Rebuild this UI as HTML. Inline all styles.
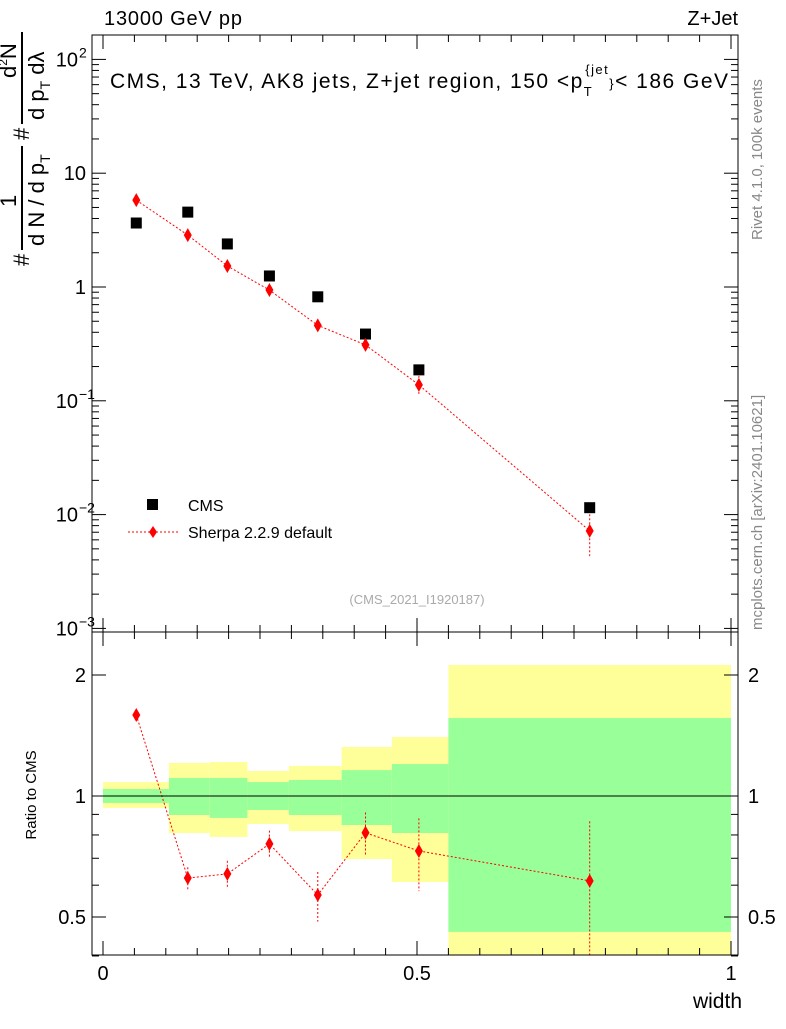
<!DOCTYPE html>
<html><head><meta charset="utf-8"><style>
body{margin:0;background:#fff;font-family:"Liberation Sans",sans-serif}
</style></head><body>
<svg width="786" height="1024" xmlns="http://www.w3.org/2000/svg" font-family="Liberation Sans, sans-serif">
<g id="bands"></g>
<g id="marks"></g>
<g id="axes" stroke="#000" fill="none"></g>
<text x="104" y="25" font-size="20" textLength="138" lengthAdjust="spacing">13000 GeV pp</text>
<text x="738" y="25" font-size="20" text-anchor="end">Z+Jet</text>
<text x="110" y="88" font-size="21" textLength="618" lengthAdjust="spacing">CMS, 13 TeV, AK8 jets, Z+jet region, 150 &lt;p<tspan font-size="13" dy="8">T</tspan><tspan font-size="13" dy="-22" dx="-8">{jet</tspan><tspan dy="14" font-size="13">}</tspan><tspan font-size="21" dy="0">&lt; 186 GeV</tspan></text>
<g font-size="22">
<text transform="translate(29,266) rotate(-90)">#</text>
<text transform="translate(16,207) rotate(-90)">1</text>
<text transform="translate(44,246) rotate(-90)">d N / d p<tspan font-size="14" dy="6">T</tspan></text>
<text transform="translate(29,140) rotate(-90)">#</text>
<text transform="translate(16,78) rotate(-90)">d<tspan font-size="12" dy="-9">2</tspan><tspan dy="9">N</tspan></text>
<text transform="translate(44,120) rotate(-90)">d p<tspan font-size="14" dy="6">T</tspan><tspan dy="-6"> dλ</tspan></text>
<line x1="22" y1="146" x2="22" y2="250" stroke="#000" stroke-width="2"/>
<line x1="22" y1="32" x2="22" y2="124" stroke="#000" stroke-width="2"/>
</g>
<text transform="translate(36,795) rotate(-90)" font-size="15" text-anchor="middle">Ratio to CMS</text>
<text x="742" y="1008" font-size="21" text-anchor="end">width</text>
<text transform="translate(762,240) rotate(-90)" font-size="15" fill="#888">Rivet 4.1.0,  100k events</text>
<text transform="translate(762,630) rotate(-90)" font-size="15" fill="#888">mcplots.cern.ch [arXiv:2401.10621]</text>
<text x="417" y="604" font-size="13" fill="#aaa" text-anchor="middle">(CMS_2021_I1920187)</text>
<g>
<rect x="147" y="499" width="11" height="11" fill="#000"/>
<text x="188" y="511" font-size="16">CMS</text>
<line x1="128" y1="532" x2="178" y2="532" stroke="red" stroke-dasharray="2,2"/>
<path d="M153 526 L157 532 L153 538 L149 532Z" fill="red"/>
<text x="188" y="538" font-size="16">Sherpa 2.2.9 default</text>
</g>
<script>
const xs=[0.053,0.135,0.198,0.265,0.342,0.418,0.503,0.775];
const cms=[3.65,4.55,2.39,1.25,0.82,0.386,0.187,0.0115];
const sherpa=[5.8,2.86,1.53,0.94,0.46,0.31,0.138,0.0072];
const sherpaErrRel=[0.07,0.07,0.07,0.08,0.1,0.12,0.2,0.4];
const ratio=[1.59,0.625,0.64,0.76,0.567,0.81,0.73,0.615];
const ratioErr=[0.03,0.04,0.05,0.06,0.08,0.1,0.15,0.25];
const edges=[0,0.105,0.17,0.23,0.296,0.38,0.46,0.55,1.0];
const yelLo=[0.934,0.809,0.791,0.852,0.818,0.697,0.611,0.38];
const yelHi=[1.083,1.208,1.215,1.154,1.188,1.324,1.402,2.118];
const grnLo=[0.961,0.897,0.882,0.923,0.897,0.847,0.809,0.459];
const grnHi=[1.041,1.109,1.109,1.083,1.096,1.160,1.201,1.563];
const X=v=>103+628*v;
const Y=v=>287-113.8*Math.log10(v);
const R=v=>796-121*Math.log2(v);
const NS="http://www.w3.org/2000/svg";
function mk(p,t,a){const e=document.createElementNS(NS,t);for(const k in a)e.setAttribute(k,a[k]);p.appendChild(e);return e;}
const bands=document.getElementById('bands'),marks=document.getElementById('marks'),ax=document.getElementById('axes');
for(let i=0;i<8;i++){
 let x0=X(edges[i]),x1=X(edges[i+1]);
 let y=mk(bands,'rect',{x:x0,y:R(yelHi[i]),width:x1-x0,height:Math.min(R(yelLo[i]),955)-R(yelHi[i]),fill:'#ffff99'});
 
 
 let g=mk(bands,'rect',{x:x0,y:R(grnHi[i]),width:x1-x0,height:R(grnLo[i])-R(grnHi[i]),fill:'#99ff99'});
 
 
}
mk(marks,'polyline',{points:xs.map((x,i)=>X(x)+','+Y(sherpa[i])).join(' '),fill:'none',stroke:'red','stroke-dasharray':'2,2'});
mk(marks,'polyline',{points:xs.map((x,i)=>X(x)+','+R(ratio[i])).join(' '),fill:'none',stroke:'red','stroke-dasharray':'2,2'});
mk(marks,'line',{x1:92,x2:738,y1:R(1),y2:R(1),stroke:'#000'});
xs.forEach((x,i)=>{
 let px=X(x);
 let c=mk(marks,'rect',{x:px-5.5,y:Y(cms[i])-5.5,width:11,height:11,fill:'#000'});
 
 
 mk(marks,'line',{x1:px,x2:px,y1:Y(sherpa[i]*(1+sherpaErrRel[i])),y2:Y(sherpa[i]*(1-sherpaErrRel[i])),stroke:'red','stroke-dasharray':'2,2'});
 let py=Y(sherpa[i]);
 let s=mk(marks,'path',{d:`M${px} ${py-7}L${px+4} ${py}L${px} ${py+7}L${px-4} ${py}Z`,fill:'red'});
 
 
 mk(marks,'line',{x1:px,x2:px,y1:R(ratio[i]+ratioErr[i]),y2:Math.min(955,R(ratio[i]-ratioErr[i])),stroke:'red','stroke-dasharray':'2,2'});
 let ry=R(ratio[i]);
 let r=mk(marks,'path',{d:`M${px} ${ry-7}L${px+4} ${ry}L${px} ${ry+7}L${px-4} ${ry}Z`,fill:'red'});
 
 
});
mk(ax,'rect',{x:92,y:35,width:646,height:597});
mk(ax,'rect',{x:92,y:632,width:646,height:323});
for(let i=0;i<=20;i++){let v=i*0.05,px=X(v),L=i%10==0?14:7;
 for(const yb of [632,955]){mk(ax,'line',{x1:px,x2:px,y1:yb,y2:yb-L});}
 mk(ax,'line',{x1:px,x2:px,y1:35,y2:35+L});mk(ax,'line',{x1:px,x2:px,y1:632,y2:632+L});}
const svg=document.querySelector('svg');
const xt=[[0,'0'],[0.5,'0.5'],[1,'1']];
xt.forEach(([v,t])=>{const e=mk(svg,'text',{x:X(v),y:980,'font-size':20,'text-anchor':'middle'});e.textContent=t;});
for(let d=-3;d<=2;d++){for(let m=1;m<10;m++){let v=m*Math.pow(10,d),py=Y(v);if(py<35||py>632)continue;let L=m==1?14:7;
 mk(ax,'line',{x1:92,x2:92+L,y1:py,y2:py});mk(ax,'line',{x1:738,x2:738-L,y1:py,y2:py});}}
const ylab=[[-3,'10','−3'],[-2,'10','−2'],[-1,'10','−1'],[0,'1',''],[1,'10',''],[2,'10','2']];
ylab.forEach(([d,b,e])=>{let t=mk(svg,'text',{x:e?78:86,y:Y(Math.pow(10,d))+7,'font-size':20,'text-anchor':'end'});t.textContent=b;
 
 if(e){let s=mk(svg,'text',{x:79,y:Y(Math.pow(10,d))-2,'font-size':14});s.textContent=e;}});
[0.4,0.5,0.6,0.7,0.8,0.9,1,2].forEach(v=>{let py=R(v),L=(v==0.5||v==1||v==2)?14:7;
 mk(ax,'line',{x1:92,x2:92+L,y1:py,y2:py});mk(ax,'line',{x1:738,x2:738-L,y1:py,y2:py});});
[[2,'2'],[1,'1'],[0.5,'0.5']].forEach(([v,t])=>{for(const [x,a] of [[86,'end'],[748,'start']]){let e=mk(svg,'text',{x:x,y:R(v)+7,'font-size':20,'text-anchor':a});e.textContent=t;
 }});
</script>
</svg>
</body></html>
